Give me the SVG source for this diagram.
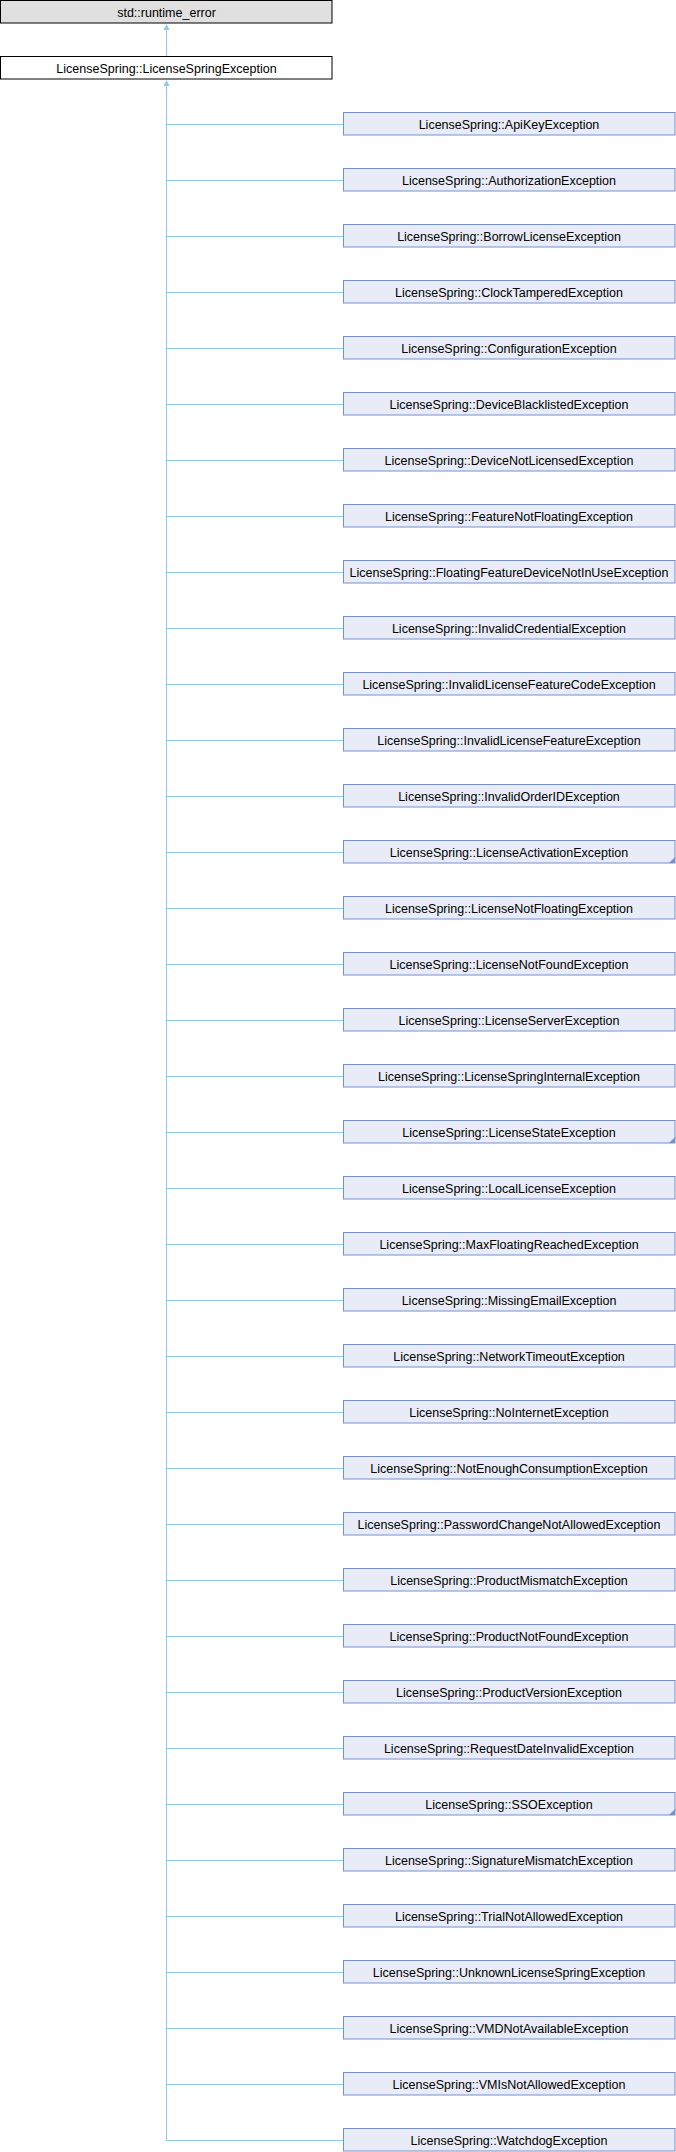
<svg xmlns="http://www.w3.org/2000/svg" width="676" height="2152" viewBox="0 0 676 2152">
<style>
text{font-family:"Liberation Sans",Arial,sans-serif;font-size:12.5px;fill:#000;text-anchor:middle}
.top{fill:#E0E0E0;stroke:#000;stroke-width:1}
.base{fill:#FFFFFF;stroke:#000;stroke-width:1}
.cls{fill:#E8ECF6;stroke:#7890C8;stroke-width:1}
.fold{fill:#7890C8}
.ln{stroke:#8DCBEC;stroke-width:1;fill:none}
.ah{fill:#8DCBEC}
</style>
<rect x="0" y="0" width="676" height="2152" fill="#fff"/>
<g id="connectors">
<path class="ln" d="M166.5 26V56.5M166.5 82V2140.5"/>
<polygon class="ah" points="166.5,24 163.5,30 169.5,30"/>
<polygon class="ah" points="166.5,80 163.5,86 169.5,86"/>
<path class="ln" d="M166.5 124.5H343.5M166.5 180.5H343.5M166.5 236.5H343.5M166.5 292.5H343.5M166.5 348.5H343.5M166.5 404.5H343.5M166.5 460.5H343.5M166.5 516.5H343.5M166.5 572.5H343.5M166.5 628.5H343.5M166.5 684.5H343.5M166.5 740.5H343.5M166.5 796.5H343.5M166.5 852.5H343.5M166.5 908.5H343.5M166.5 964.5H343.5M166.5 1020.5H343.5M166.5 1076.5H343.5M166.5 1132.5H343.5M166.5 1188.5H343.5M166.5 1244.5H343.5M166.5 1300.5H343.5M166.5 1356.5H343.5M166.5 1412.5H343.5M166.5 1468.5H343.5M166.5 1524.5H343.5M166.5 1580.5H343.5M166.5 1636.5H343.5M166.5 1692.5H343.5M166.5 1748.5H343.5M166.5 1804.5H343.5M166.5 1860.5H343.5M166.5 1916.5H343.5M166.5 1972.5H343.5M166.5 2028.5H343.5M166.5 2084.5H343.5M166.5 2140.5H343.5"/>
</g>
<g id="n_runtime_error"><rect class="top" x="0.5" y="0.5" width="331.5" height="22.5"/><text x="166.5" y="16.5">std::runtime_error</text></g>
<g id="n_LicenseSpringException"><rect class="base" x="0.5" y="56.5" width="331.5" height="22.5"/><text x="166.5" y="72.5">LicenseSpring::LicenseSpringException</text></g>
<g id="n0"><rect class="cls" x="343.5" y="112.5" width="331.5" height="22.5"/><text x="509" y="128.5">LicenseSpring::ApiKeyException</text></g>
<g id="n1"><rect class="cls" x="343.5" y="168.5" width="331.5" height="22.5"/><text x="509" y="184.5">LicenseSpring::AuthorizationException</text></g>
<g id="n2"><rect class="cls" x="343.5" y="224.5" width="331.5" height="22.5"/><text x="509" y="240.5">LicenseSpring::BorrowLicenseException</text></g>
<g id="n3"><rect class="cls" x="343.5" y="280.5" width="331.5" height="22.5"/><text x="509" y="296.5">LicenseSpring::ClockTamperedException</text></g>
<g id="n4"><rect class="cls" x="343.5" y="336.5" width="331.5" height="22.5"/><text x="509" y="352.5">LicenseSpring::ConfigurationException</text></g>
<g id="n5"><rect class="cls" x="343.5" y="392.5" width="331.5" height="22.5"/><text x="509" y="408.5">LicenseSpring::DeviceBlacklistedException</text></g>
<g id="n6"><rect class="cls" x="343.5" y="448.5" width="331.5" height="22.5"/><text x="509" y="464.5">LicenseSpring::DeviceNotLicensedException</text></g>
<g id="n7"><rect class="cls" x="343.5" y="504.5" width="331.5" height="22.5"/><text x="509" y="520.5">LicenseSpring::FeatureNotFloatingException</text></g>
<g id="n8"><rect class="cls" x="343.5" y="560.5" width="331.5" height="22.5"/><text x="509" y="576.5">LicenseSpring::FloatingFeatureDeviceNotInUseException</text></g>
<g id="n9"><rect class="cls" x="343.5" y="616.5" width="331.5" height="22.5"/><text x="509" y="632.5">LicenseSpring::InvalidCredentialException</text></g>
<g id="n10"><rect class="cls" x="343.5" y="672.5" width="331.5" height="22.5"/><text x="509" y="688.5">LicenseSpring::InvalidLicenseFeatureCodeException</text></g>
<g id="n11"><rect class="cls" x="343.5" y="728.5" width="331.5" height="22.5"/><text x="509" y="744.5">LicenseSpring::InvalidLicenseFeatureException</text></g>
<g id="n12"><rect class="cls" x="343.5" y="784.5" width="331.5" height="22.5"/><text x="509" y="800.5">LicenseSpring::InvalidOrderIDException</text></g>
<g id="n13"><rect class="cls" x="343.5" y="840.5" width="331.5" height="22.5"/><polygon class="fold" points="675,857 675,863 669,863"/><text x="509" y="856.5">LicenseSpring::LicenseActivationException</text></g>
<g id="n14"><rect class="cls" x="343.5" y="896.5" width="331.5" height="22.5"/><text x="509" y="912.5">LicenseSpring::LicenseNotFloatingException</text></g>
<g id="n15"><rect class="cls" x="343.5" y="952.5" width="331.5" height="22.5"/><text x="509" y="968.5">LicenseSpring::LicenseNotFoundException</text></g>
<g id="n16"><rect class="cls" x="343.5" y="1008.5" width="331.5" height="22.5"/><text x="509" y="1024.5">LicenseSpring::LicenseServerException</text></g>
<g id="n17"><rect class="cls" x="343.5" y="1064.5" width="331.5" height="22.5"/><text x="509" y="1080.5">LicenseSpring::LicenseSpringInternalException</text></g>
<g id="n18"><rect class="cls" x="343.5" y="1120.5" width="331.5" height="22.5"/><polygon class="fold" points="675,1137 675,1143 669,1143"/><text x="509" y="1136.5">LicenseSpring::LicenseStateException</text></g>
<g id="n19"><rect class="cls" x="343.5" y="1176.5" width="331.5" height="22.5"/><text x="509" y="1192.5">LicenseSpring::LocalLicenseException</text></g>
<g id="n20"><rect class="cls" x="343.5" y="1232.5" width="331.5" height="22.5"/><text x="509" y="1248.5">LicenseSpring::MaxFloatingReachedException</text></g>
<g id="n21"><rect class="cls" x="343.5" y="1288.5" width="331.5" height="22.5"/><text x="509" y="1304.5">LicenseSpring::MissingEmailException</text></g>
<g id="n22"><rect class="cls" x="343.5" y="1344.5" width="331.5" height="22.5"/><text x="509" y="1360.5">LicenseSpring::NetworkTimeoutException</text></g>
<g id="n23"><rect class="cls" x="343.5" y="1400.5" width="331.5" height="22.5"/><text x="509" y="1416.5">LicenseSpring::NoInternetException</text></g>
<g id="n24"><rect class="cls" x="343.5" y="1456.5" width="331.5" height="22.5"/><text x="509" y="1472.5">LicenseSpring::NotEnoughConsumptionException</text></g>
<g id="n25"><rect class="cls" x="343.5" y="1512.5" width="331.5" height="22.5"/><text x="509" y="1528.5">LicenseSpring::PasswordChangeNotAllowedException</text></g>
<g id="n26"><rect class="cls" x="343.5" y="1568.5" width="331.5" height="22.5"/><text x="509" y="1584.5">LicenseSpring::ProductMismatchException</text></g>
<g id="n27"><rect class="cls" x="343.5" y="1624.5" width="331.5" height="22.5"/><text x="509" y="1640.5">LicenseSpring::ProductNotFoundException</text></g>
<g id="n28"><rect class="cls" x="343.5" y="1680.5" width="331.5" height="22.5"/><text x="509" y="1696.5">LicenseSpring::ProductVersionException</text></g>
<g id="n29"><rect class="cls" x="343.5" y="1736.5" width="331.5" height="22.5"/><text x="509" y="1752.5">LicenseSpring::RequestDateInvalidException</text></g>
<g id="n30"><rect class="cls" x="343.5" y="1792.5" width="331.5" height="22.5"/><polygon class="fold" points="675,1809 675,1815 669,1815"/><text x="509" y="1808.5">LicenseSpring::SSOException</text></g>
<g id="n31"><rect class="cls" x="343.5" y="1848.5" width="331.5" height="22.5"/><text x="509" y="1864.5">LicenseSpring::SignatureMismatchException</text></g>
<g id="n32"><rect class="cls" x="343.5" y="1904.5" width="331.5" height="22.5"/><text x="509" y="1920.5">LicenseSpring::TrialNotAllowedException</text></g>
<g id="n33"><rect class="cls" x="343.5" y="1960.5" width="331.5" height="22.5"/><text x="509" y="1976.5">LicenseSpring::UnknownLicenseSpringException</text></g>
<g id="n34"><rect class="cls" x="343.5" y="2016.5" width="331.5" height="22.5"/><text x="509" y="2032.5">LicenseSpring::VMDNotAvailableException</text></g>
<g id="n35"><rect class="cls" x="343.5" y="2072.5" width="331.5" height="22.5"/><text x="509" y="2088.5">LicenseSpring::VMIsNotAllowedException</text></g>
<g id="n36"><rect class="cls" x="343.5" y="2128.5" width="331.5" height="22.5"/><text x="509" y="2144.5">LicenseSpring::WatchdogException</text></g>
</svg>
